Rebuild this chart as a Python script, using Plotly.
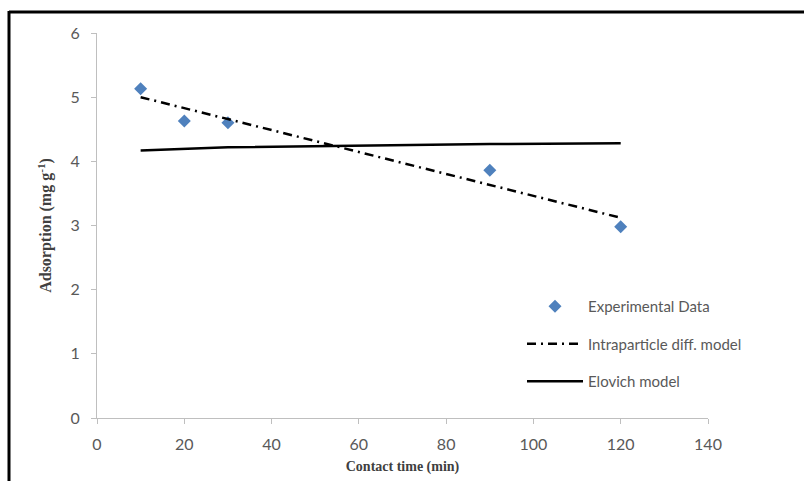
import plotly.graph_objects as go

# Data
time_min = [10, 20, 30, 90, 120]
experimental = [5.13, 4.63, 4.60, 3.86, 2.98]
intraparticle = [5.00, 4.83, 4.66, 3.63, 3.12]
elovich = [4.17, 4.20, 4.22, 4.27, 4.28]

x_ticks = [0, 20, 40, 60, 80, 100, 120, 140]
y_ticks = [0, 1, 2, 3, 4, 5, 6]

W, H = 804, 481
L, R, T, B = 97, 96, 33, 63
pw, ph = W - L - R, H - T - B

def px(xp):
    return (xp - L) / pw

def py(yp):
    return (H - B - yp) / ph

fig = go.Figure()
fig.add_trace(go.Scatter(
    x=time_min, y=experimental, mode="markers", name="Experimental Data",
    marker=dict(symbol="diamond", size=10, color="#4F81BD",
                line=dict(width=0)),
    legendgroup="a",
))
fig.add_trace(go.Scatter(
    x=time_min, y=intraparticle, mode="lines", name="Intraparticle diff. model",
    line=dict(color="black", width=2.5, dash="9px,5px,2px,5px"),
    legendgroup="b",
))
fig.add_trace(go.Scatter(
    x=time_min, y=elovich, mode="lines", name="Elovich model",
    line=dict(color="black", width=2.5),
    legendgroup="c",
))

axis_common = dict(
    showgrid=False, zeroline=False, showline=True, linecolor="#BFBFBF",
    linewidth=1, ticks="outside", ticklen=5, tickcolor="#BFBFBF",
    tickfont=dict(family="Lato", size=16, color="#595959"),
    automargin=False,
)

fig.update_layout(
    width=W, height=H,
    margin=dict(l=L, r=R, t=T, b=B),
    paper_bgcolor="white", plot_bgcolor="white",
    xaxis=dict(range=[0, 140], tickvals=x_ticks, ticklabelstandoff=7,
               title=dict(text="Contact time (min)", standoff=8,
                          font=dict(family="Liberation Serif", size=14, color="#404040", weight="bold")),
               **axis_common),
    yaxis=dict(range=[0, 6], tickvals=y_ticks, ticklabelstandoff=8,
               title=dict(text="Adsorption (mg g<sup>-1</sup>)", standoff=14,
                          font=dict(family="Liberation Serif", size=16, color="#404040", weight="bold")),
               **axis_common),
    showlegend=True,
    legend=dict(
        x=px(522), y=py(290), xanchor="left", yanchor="top",
        font=dict(family="Lato", size=15, color="#595959"),
        bgcolor="rgba(0,0,0,0)", itemwidth=56, tracegroupgap=15,
        traceorder="grouped",
    ),
    shapes=[
        dict(type="line", xref="paper", yref="paper",
             x0=px(9), x1=px(805), y0=py(12), y1=py(12),
             line=dict(color="black", width=3)),
        dict(type="line", xref="paper", yref="paper",
             x0=px(9), x1=px(9), y0=py(11), y1=py(482),
             line=dict(color="black", width=3)),
    ],
)

fig.write_html("out.html")
